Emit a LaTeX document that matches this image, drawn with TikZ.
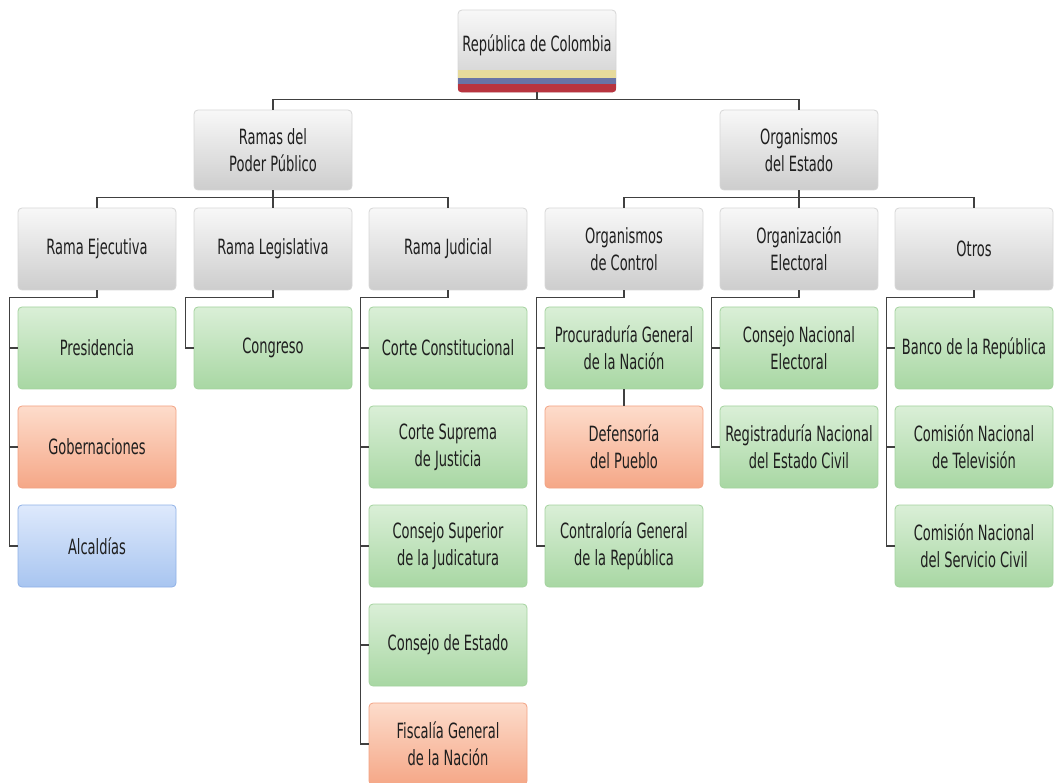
\documentclass[tikz,border=0pt]{standalone}
\usepackage{fontspec}
\setmainfont{DejaVu Sans}[FakeStretch=0.62]
\usetikzlibrary{positioning}
\definecolor{greyT}{HTML}{F8F8F8}
\definecolor{greyB}{HTML}{CDCDCD}
\definecolor{greyL}{HTML}{D6D6D6}
\definecolor{greenT}{HTML}{DAEFD7}
\definecolor{greenB}{HTML}{A8D7A3}
\definecolor{greenL}{HTML}{A3D29E}
\definecolor{orangeT}{HTML}{FDDCCB}
\definecolor{orangeB}{HTML}{F5A787}
\definecolor{orangeL}{HTML}{F2A283}
\definecolor{blueT}{HTML}{DEE9FC}
\definecolor{blueB}{HTML}{A8C5F0}
\definecolor{blueL}{HTML}{8FB1E6}
\definecolor{flagY}{HTML}{E6DA9C}
\definecolor{flagB}{HTML}{6873A6}
\definecolor{flagR}{HTML}{B8343F}
\definecolor{lineC}{HTML}{404040}
\begin{document}
\begin{tikzpicture}[x=1pt,y=-1pt,
  box/.style={draw, rounded corners=4pt, line width=0.8pt, minimum width=158pt,
    minimum height=82pt, align=center, text=black!88,
    font=\fontsize{21}{27}\selectfont},
  greybox/.style={box, draw=greyL, top color=greyT, bottom color=greyB},
  greenbox/.style={box, draw=greenL, top color=greenT, bottom color=greenB},
  orangebox/.style={box, draw=orangeL, top color=orangeT, bottom color=orangeB},
  bluebox/.style={box, draw=blueL, top color=blueT, bottom color=blueB},
  conn/.style={draw=lineC, line width=1.7pt}]
\useasboundingbox (0,0) rectangle (1058,783);

% top node with flag stripes
\node[greybox, text depth=15pt] (rep) at (537,51) {República de Colombia};
\begin{scope}
\clip[rounded corners=4pt] (rep.north west) rectangle (rep.south east);
\fill[flagY] (rep.west |- 0,70) rectangle (rep.east |- 0,78);
\fill[flagB] (rep.west |- 0,78) rectangle (rep.east |- 0,84);
\fill[flagR] (rep.west |- 0,84) rectangle (rep.east |- 0,93);
\end{scope}

% second level
\node[greybox, minimum height=80pt] (ramas) at (273,150) {Ramas del\\Poder Público};
\node[greybox, minimum height=80pt] (orgs) at (799,150) {Organismos\\del Estado};

% third level
\node[greybox] (eje) at (97,249) {Rama Ejecutiva};
\node[greybox] (leg) at (273,249) {Rama Legislativa};
\node[greybox] (jud) at (448,249) {Rama Judicial};
\node[greybox] (ctrl) at (624,249) {Organismos\\de Control};
\node[greybox] (elec) at (799,249) {Organización\\Electoral};
\node[greybox] (otros) at (974,249) {Otros};

% fourth level
\node[greenbox] (pres) at (97,348) {Presidencia};
\node[orangebox] (gob) at (97,447) {Gobernaciones};
\node[bluebox] (alc) at (97,546) {Alcaldías};

\node[greenbox] (cong) at (273,348) {Congreso};

\node[greenbox] (cc) at (448,348) {Corte Constitucional};
\node[greenbox] (csj) at (448,447) {Corte Suprema\\de Justicia};
\node[greenbox] (csjud) at (448,546) {Consejo Superior\\de la Judicatura};
\node[greenbox] (ce) at (448,645) {Consejo de Estado};
\node[orangebox] (fis) at (448,744) {Fiscalía General\\de la Nación};

\node[greenbox] (proc) at (624,348) {Procuraduría General\\de la Nación};
\node[orangebox] (def) at (624,447) {Defensoría\\del Pueblo};
\node[greenbox] (contr) at (624,546) {Contraloría General\\de la República};

\node[greenbox] (cne) at (799,348) {Consejo Nacional\\Electoral};
\node[greenbox] (reg) at (799,447) {Registraduría Nacional\\del Estado Civil};

\node[greenbox] (banco) at (974,348) {Banco de la República};
\node[greenbox] (cntv) at (974,447) {Comisión Nacional\\de Televisión};
\node[greenbox] (cnsc) at (974,546) {Comisión Nacional\\del Servicio Civil};

% connectors
\foreach \a in {ramas,orgs}
  \path[conn] (rep.south) -- ++(0,7) -| (\a.north);
\foreach \a in {eje,leg,jud}
  \path[conn] (ramas.south) -- ++(0,7) -| (\a.north);
\foreach \a in {ctrl,elec,otros}
  \path[conn] (orgs.south) -- ++(0,7) -| (\a.north);

\path[conn] (eje.south) -- ++(0,7) -| ([xshift=-8pt]alc.west) -- (alc.west);
\foreach \a in {pres,gob}
  \path[conn] ([xshift=-8pt]\a.west) -- (\a.west);
\path[conn] (leg.south) -- ++(0,7) -| ([xshift=-8pt]cong.west) -- (cong.west);
\path[conn] (jud.south) -- ++(0,7) -| ([xshift=-8pt]fis.west) -- (fis.west);
\foreach \a in {cc,csj,csjud,ce}
  \path[conn] ([xshift=-8pt]\a.west) -- (\a.west);
\path[conn] (ctrl.south) -- ++(0,7) -| ([xshift=-8pt]contr.west) -- (contr.west);
\path[conn] ([xshift=-8pt]proc.west) -- (proc.west);
\path[conn] (proc.south) -- (def.north);
\path[conn] (elec.south) -- ++(0,7) -| ([xshift=-8pt]reg.west) -- (reg.west);
\path[conn] ([xshift=-8pt]cne.west) -- (cne.west);
\path[conn] (otros.south) -- ++(0,7) -| ([xshift=-8pt]cnsc.west) -- (cnsc.west);
\foreach \a in {banco,cntv}
  \path[conn] ([xshift=-8pt]\a.west) -- (\a.west);
\end{tikzpicture}
\end{document}
